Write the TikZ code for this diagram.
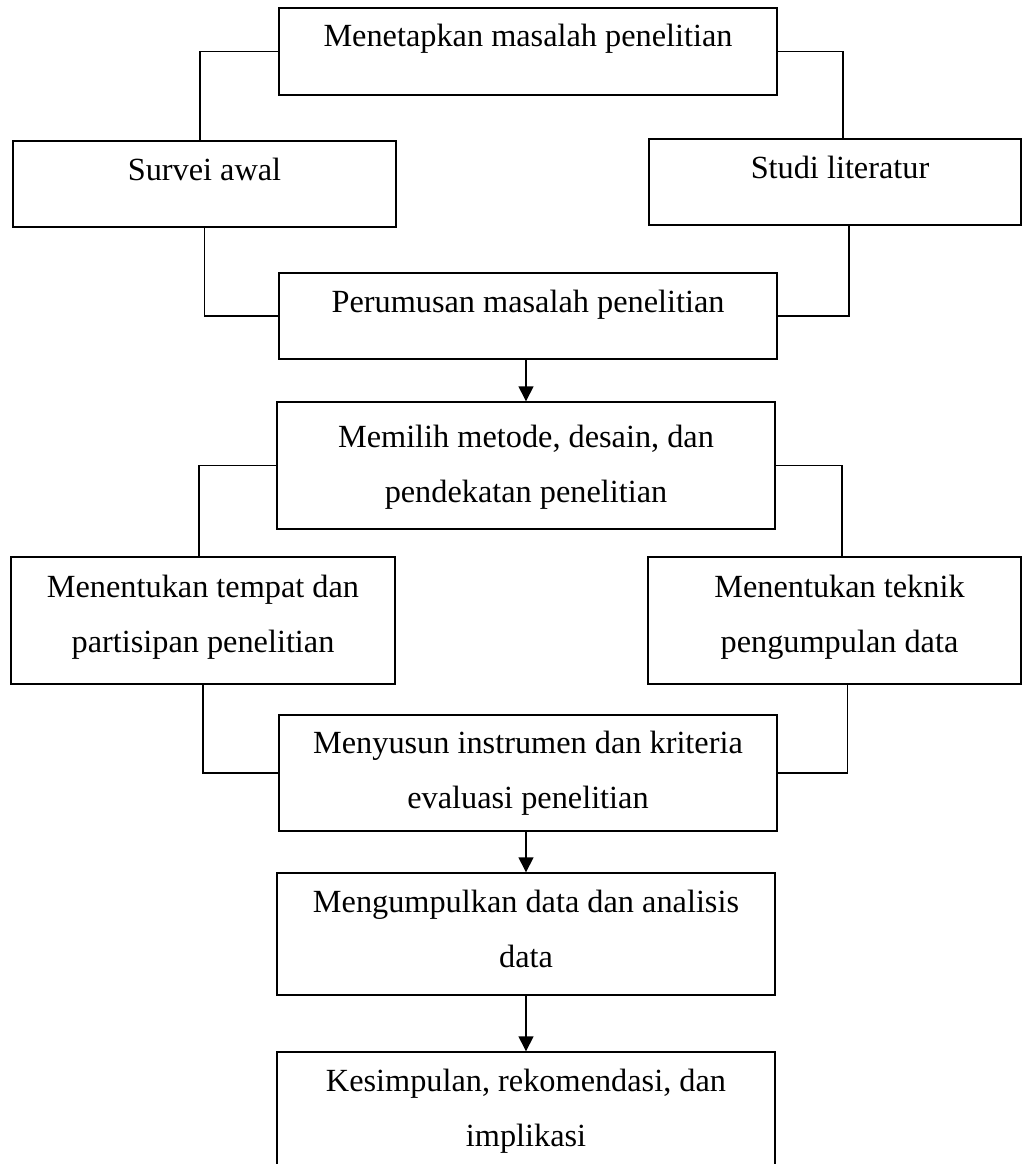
\documentclass[tikz,border=0pt]{standalone}
\usepackage{fontspec}
\setmainfont{Liberation Serif}
\usetikzlibrary{arrows.meta}
\begin{document}
\begin{tikzpicture}[x=1pt,y=-1pt,
  box/.style={draw=black,line width=1.4pt,rectangle,inner sep=0pt},
  txt/.style={anchor=base,align=center,inner sep=0pt,font=\fontsize{32.3}{55}\selectfont},
  conn/.style={draw=black,line width=1.4pt},
  arr/.style={conn,-{Triangle[width=15pt,length=15pt]}}]
\useasboundingbox (0,0) rectangle (1023,1164);
% boxes
\node[box,minimum width=498pt,minimum height=87pt]  (b1) at (528,51.5) {};
\node[box,minimum width=383pt,minimum height=86pt]  (b2) at (204.5,184) {};
\node[box,minimum width=372pt,minimum height=86pt]  (b3) at (835,182) {};
\node[box,minimum width=498pt,minimum height=86pt]  (b4) at (528,316) {};
\node[box,minimum width=498pt,minimum height=127pt] (b5) at (526,465.5) {};
\node[box,minimum width=384pt,minimum height=127pt] (b6) at (203,620.5) {};
\node[box,minimum width=373pt,minimum height=127pt] (b7) at (834.5,620.5) {};
\node[box,minimum width=498pt,minimum height=116pt] (b8) at (528,773) {};
\node[box,minimum width=498pt,minimum height=122pt] (b9) at (526,934) {};
\node[box,minimum width=498pt,minimum height=124pt] (b10) at (526,1114) {};
% texts (anchor = baseline of last line)
\node[txt] (t1) at (528,47) {Menetapkan masalah penelitian};
\node[txt] (t2) at (204.5,180) {Survei awal};
\node[txt] (t3) at (840,178) {Studi literatur};
\node[txt] (t4) at (528,312) {Perumusan masalah penelitian};
\node[txt] (t5) at (526,502) {Memilih metode, desain, dan\\pendekatan penelitian};
\node[txt] (t6) at (203,652) {Menentukan tempat dan\\partisipan penelitian};
\node[txt] (t7) at (839.5,652) {Menentukan teknik\\pengumpulan data};
\node[txt] (t8) at (528,808) {Menyusun instrumen dan kriteria\\evaluasi penelitian};
\node[txt] (t9) at (526,967) {Mengumpulkan data dan analisis\\data};
\node[txt] (t10) at (526,1146) {Kesimpulan, rekomendasi, dan\\implikasi};
% connectors
\draw[conn] (b1.west) -| ([xshift=-4.5pt]b2.north);
\draw[conn] (b1.east) -| ([xshift=8pt]b3.north);
\draw[conn] (b2.south) |- (b4.west);
\draw[conn] ([xshift=14pt]b3.south) |- (b4.east);
\draw[arr] (b5.north |- b4.south) -- (b5.north);
\draw[conn] (b5.west) -| ([xshift=-4pt]b6.north);
\draw[conn] (b5.east) -| ([xshift=7.5pt]b7.north);
\draw[conn] (b6.south) |- (b8.west);
\draw[conn] ([xshift=13pt]b7.south) |- (b8.east);
\draw[arr] (b9.north |- b8.south) -- (b9.north);
\draw[arr] (b9.south) -- (b10.north);
\end{tikzpicture}
\end{document}
